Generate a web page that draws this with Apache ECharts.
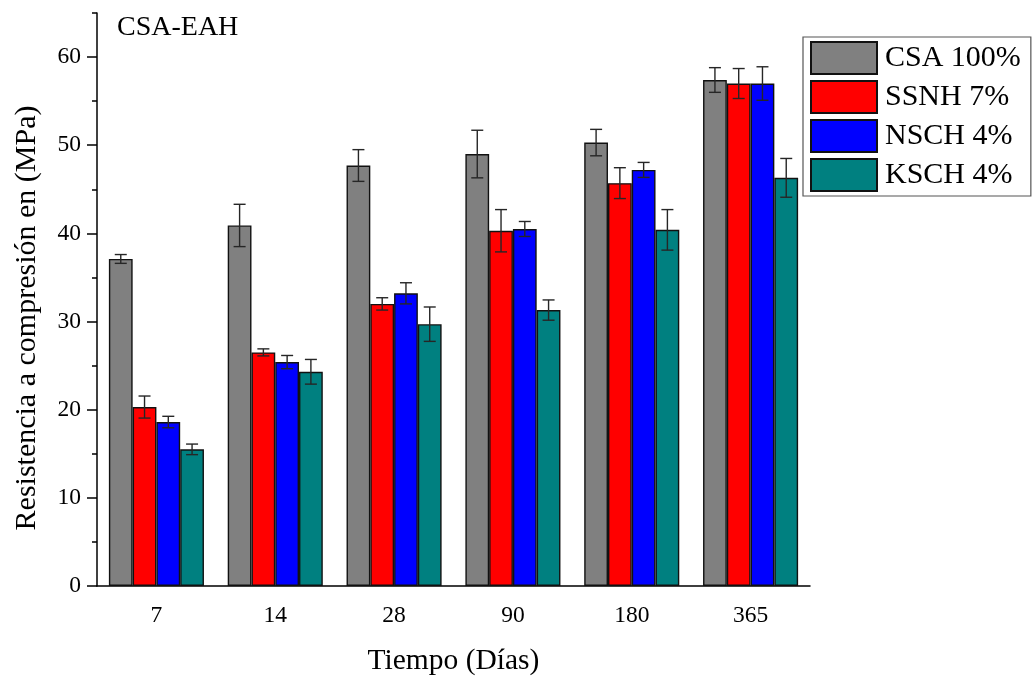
<!DOCTYPE html>
<html>
<head>
<meta charset="utf-8">
<script src="https://cdn.jsdelivr.net/npm/echarts@6/dist/echarts.min.js"></script>
<style>
  html, body { margin: 0; padding: 0; background: #fff; }
  #chart { width: 1033px; height: 681px; }
</style>
</head>
<body>
<div id="chart"></div>
<script>
// Curing age categories (days)
const days = ['7', '14', '28', '90', '180', '365'];
const seriesNames = ['CSA 100%', 'SSNH 7%', 'NSCH 4%', 'KSCH 4%'];

// Mean compressive strength (MPa) and standard deviation per mix
const csa     = [37.1, 40.9, 47.7, 49.0, 50.3, 57.4];
const csaErr  = [0.5, 2.4, 1.8, 2.7, 1.5, 1.4];
const ssnh    = [20.3, 26.5, 32.0, 40.3, 45.7, 57.0];
const ssnhErr = [1.25, 0.4, 0.7, 2.4, 1.75, 1.7];
const nsch    = [18.6, 25.4, 33.2, 40.5, 47.2, 57.0];
const nschErr = [0.65, 0.75, 1.2, 0.85, 0.85, 1.9];
const ksch    = [15.5, 24.3, 29.7, 31.3, 40.4, 46.3];
const kschErr = [0.6, 1.4, 1.95, 1.15, 2.3, 2.2];

// Tick values on the strength axis
const yMajorTicks = [0, 10, 20, 30, 40, 50, 60];
const yMinorTicks = [5, 15, 25, 35, 45, 55, 65];

const means = [csa, ssnh, nsch, ksch];
const errs = [csaErr, ssnhErr, nschErr, kschErr];
const colors = ['#808080', '#ff0000', '#0000ff', '#008080'];

const FONT = '"Liberation Serif", "Times New Roman", serif';
const CATEGORY_GAP = 0.2;   // fraction of band left empty between groups
const GROUP = seriesNames.length;

const chart = echarts.init(document.getElementById('chart'), null, { renderer: 'canvas' });

// Error bar drawn centred on the s-th bar of its category group
function errorBar(s) {
  return function (params, api) {
    const cat = api.value(0);
    const val = api.value(1);
    const err = api.value(2);
    const band = api.size([1, 0])[0];
    const groupW = band * (1 - CATEGORY_GAP);
    const barW = groupW / GROUP;
    const c = api.coord([cat, val]);
    const x = c[0] - groupW / 2 + barW * (s + 0.5);
    const yTop = api.coord([cat, val + err])[1];
    const yBot = api.coord([cat, val - err])[1];
    const cap = 6;
    const st = { stroke: '#262626', lineWidth: 1.4 };
    return {
      type: 'group',
      children: [
        { type: 'line', shape: { x1: x, y1: yTop, x2: x, y2: yBot }, style: st },
        { type: 'line', shape: { x1: x - cap, y1: yTop, x2: x + cap, y2: yTop }, style: st },
        { type: 'line', shape: { x1: x - cap, y1: yBot, x2: x + cap, y2: yBot }, style: st }
      ]
    };
  };
}

const barSeries = seriesNames.map((name, s) => ({
  name: name,
  type: 'bar',
  xAxisIndex: 0,
  yAxisIndex: 0,
  data: means[s],
  barGap: '0%',
  barCategoryGap: (CATEGORY_GAP * 100) + '%',
  itemStyle: { color: colors[s], borderColor: '#111', borderWidth: 1.4 },
  emphasis: { disabled: true },
  z: 2
}));

const errSeries = seriesNames.map((name, s) => ({
  name: name + ' sd',
  type: 'custom',
  xAxisIndex: 0,
  yAxisIndex: 0,
  renderItem: errorBar(s),
  data: means[s].map((v, i) => [i, v, errs[s][i]]),
  encode: { x: 0, y: 1 },
  silent: true,
  z: 5
}));

const axisLineStyle = { color: '#000', width: 1.5 };

chart.setOption({
  animation: false,
  backgroundColor: '#fff',
  textStyle: { fontFamily: FONT },
  title: {
    text: 'CSA-EAH',
    left: 112,
    top: 9,
    textStyle: { fontFamily: FONT, fontSize: 28, fontWeight: 'normal', color: '#000' }
  },
  legend: {
    data: seriesNames,
    orient: 'vertical',
    left: 803,
    top: 37,
    padding: [4, 10, 4, 7],
    itemWidth: 66,
    itemHeight: 32,
    itemGap: 5,
    borderColor: '#555',
    borderWidth: 1.2,
    backgroundColor: '#fff',
    icon: 'rect',
    selectedMode: false,
    textStyle: { fontFamily: FONT, fontSize: 30, color: '#000', padding: [0, 0, 0, 3] }
  },
  grid: { left: 97, right: 223, top: 13, bottom: 94, containLabel: false },
  xAxis: [
    {
      type: 'category',
      data: days,
      position: 'bottom',
      name: 'Tiempo (Días)',
      nameLocation: 'middle',
      nameGap: 60,
      nameTextStyle: { fontFamily: FONT, fontSize: 29.5, color: '#000' },
      axisLine: { lineStyle: axisLineStyle },
      axisTick: { alignWithLabel: true, length: 10, lineStyle: axisLineStyle },
      axisLabel: { fontFamily: FONT, fontSize: 23.5, color: '#000', margin: 18 },
      splitLine: { show: false }
    },
    {
      type: 'category',
      data: days,
      position: 'bottom',
      axisLine: { show: false },
      axisTick: { length: 5, lineStyle: axisLineStyle },
      axisLabel: { show: false },
      splitLine: { show: false }
    }
  ],
  yAxis: [
    {
      type: 'value',
      min: 0,
      max: 65,
      interval: 10,
      position: 'left',
      axisLine: { show: true, lineStyle: axisLineStyle },
      axisTick: { show: true, length: 10, lineStyle: axisLineStyle, customValues: yMajorTicks },
      axisLabel: { fontFamily: FONT, fontSize: 23.5, color: '#000', margin: 16, customValues: yMajorTicks },
      splitLine: { show: false }
    },
    {
      type: 'value',
      min: 0,
      max: 65,
      interval: 5,
      position: 'left',
      axisLine: { show: false },
      axisTick: { show: true, length: 5, lineStyle: axisLineStyle, customValues: yMinorTicks },
      axisLabel: { show: false },
      splitLine: { show: false }
    }
  ],
  graphic: [
    {
      type: 'text',
      x: 27,
      y: 318,
      rotation: Math.PI / 2,
      style: {
        text: 'Resistencia a compresión en (MPa)',
        font: '30px ' + FONT,
        fill: '#000',
        align: 'center',
        verticalAlign: 'middle'
      }
    }
  ],
  series: barSeries.concat(errSeries)
});
</script>
</body>
</html>
